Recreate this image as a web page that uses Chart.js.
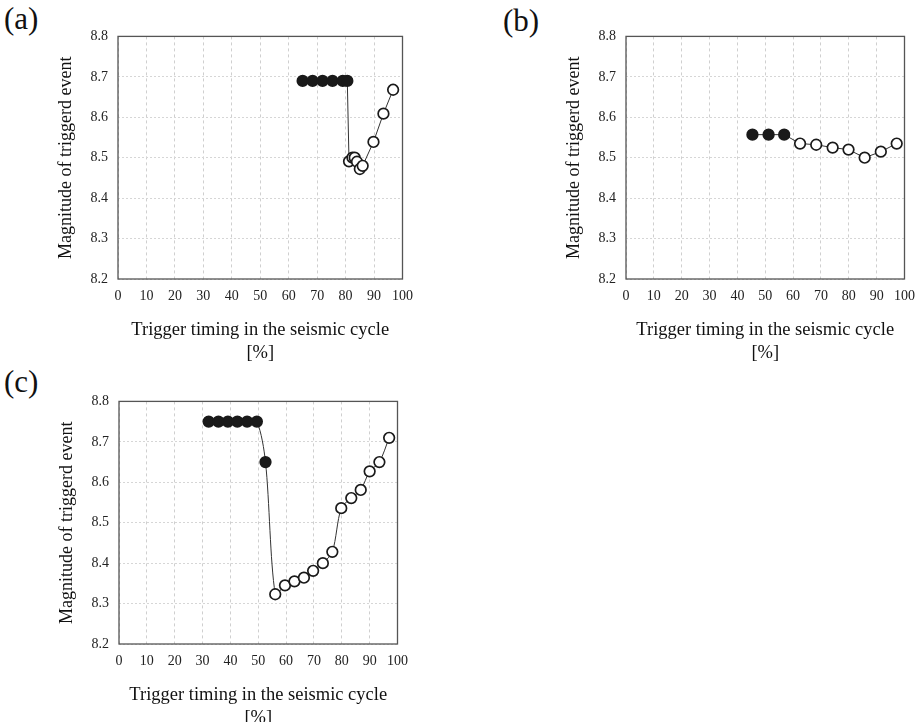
<!DOCTYPE html>
<html>
<head>
<meta charset="utf-8">
<script src="https://cdn.jsdelivr.net/npm/chart.js@4.4.1/dist/chart.umd.min.js"></script>
<style>
  body { margin: 0; width: 919px; height: 722px; background: #fff; position: relative; overflow: hidden; font-family: "Liberation Serif", "DejaVu Serif", serif; }
  .panel { position: absolute; }
  .lbl { position: absolute; font-size: 31px; line-height: 31px; color: #111; }
</style>
</head>
<body>
<div class="lbl" style="left:4px;top:3px">(a)</div>
<div class="lbl" style="left:503px;top:5px">(b)</div>
<div class="lbl" style="left:4px;top:366px">(c)</div>
<canvas id="ca" class="panel" style="left:40px;top:18px"></canvas>
<canvas id="cb" class="panel" style="left:548px;top:18px"></canvas>
<canvas id="cc" class="panel" style="left:41px;top:383px"></canvas>
<script>
// (a)
const aTiming = [64.9, 68.4, 71.9, 75.4, 79.0, 80.6, 81.2, 82.4, 83.2, 84.0, 85.0, 86.0, 89.8, 93.3, 96.7];
const aMag    = [8.69, 8.69, 8.69, 8.69, 8.69, 8.69, 8.491, 8.50, 8.50, 8.49, 8.472, 8.48, 8.539, 8.609, 8.668];
const aFilled = 6;
// (b)
const bTiming = [45.4, 51.2, 56.8, 62.5, 68.3, 74.2, 79.9, 85.7, 91.5, 97.2];
const bMag    = [8.557, 8.557, 8.557, 8.535, 8.532, 8.525, 8.52, 8.50, 8.515, 8.535];
const bFilled = 3;
// (c)
const cTiming = [32.2, 35.7, 39.1, 42.5, 46.0, 49.5, 52.6, 56.1, 59.6, 63.0, 66.4, 69.7, 73.2, 76.6, 79.8, 83.4, 86.8, 90.0, 93.5, 97.0];
const cMag    = [8.75, 8.75, 8.75, 8.75, 8.75, 8.75, 8.65, 8.323, 8.345, 8.355, 8.364, 8.381, 8.40, 8.428, 8.536, 8.561, 8.581, 8.627, 8.65, 8.71];
const cFilled = 7;

const xTicks = [0, 10, 20, 30, 40, 50, 60, 70, 80, 90, 100];
const yTicks = [8.2, 8.3, 8.4, 8.5, 8.6, 8.7, 8.8];
const xTitle = ['Trigger timing in the seismic cycle', '[%]'];
const yTitle = 'Magnitude of triggerd event';

const boxPlugin = {
  id: 'box',
  afterDraw(chart) {
    const a = chart.chartArea, ctx = chart.ctx;
    ctx.save();
    ctx.strokeStyle = '#555';
    ctx.lineWidth = 1.3;
    ctx.strokeRect(a.left, a.top, a.right - a.left, a.bottom - a.top);
    ctx.restore();
  }
};

function makeChart(id, xs, ys, nFilled, w, h, tension) {
  const el = document.getElementById(id);
  el.width = w; el.height = h;
  el.style.width = w + 'px'; el.style.height = h + 'px';
  const pts = xs.map((x, i) => ({ x: x, y: ys[i] }));
  const fill = xs.map((x, i) => i < nFilled ? '#1a1a1a' : '#ffffff');
  const font = { family: '"Liberation Serif", serif', size: 14 };
  return new Chart(el, {
    type: 'line',
    data: {
      datasets: [{
        data: pts,
        borderColor: '#333',
        borderWidth: 1,
        tension: tension,
        pointRadius: 5.3,
        pointBorderWidth: 1.7,
        pointBorderColor: '#1a1a1a',
        pointBackgroundColor: fill
      }]
    },
    options: {
      responsive: false,
      animation: false,
      events: [],
      layout: { padding: 0 },
      plugins: { legend: { display: false }, tooltip: { enabled: false } },
      scales: {
        x: {
          type: 'linear', min: 0, max: 100,
          afterBuildTicks: s => { s.ticks = xTicks.map(v => ({ value: v })); },
          afterFit: s => { s.height = 90; },
          grid: { color: '#cfcfcf', drawTicks: false, lineWidth: 1 },
          border: { display: false, dash: [3, 3] },
          ticks: { color: '#222', font: font, padding: 9, maxRotation: 0, autoSkip: false },
          title: { display: true, text: xTitle, color: '#111', font: { family: '"Liberation Serif", serif', size: 18.5, lineHeight: 1.25 }, padding: { top: 16 } }
        },
        y: {
          type: 'linear', min: 8.2, max: 8.8,
          afterBuildTicks: s => { s.ticks = yTicks.map(v => ({ value: v })); },
          afterFit: s => { s.width = 78; },
          grid: { color: '#d6d6d6', drawTicks: false, lineWidth: 1 },
          border: { display: false, dash: [2, 2] },
          ticks: { color: '#222', font: font, padding: 10, callback: v => v.toFixed(1) },
          title: { display: true, text: yTitle, color: '#111', font: { family: '"Liberation Serif", serif', size: 18 }, padding: { top: 15, bottom: 0 } }
        }
      }
    },
    plugins: [boxPlugin]
  });
}

makeChart('ca', aTiming, aMag, aFilled, 382, 351, 0);
makeChart('cb', bTiming, bMag, bFilled, 376, 351, 0);
makeChart('cc', cTiming, cMag, cFilled, 376, 351, 0.3);
</script>
</body>
</html>
